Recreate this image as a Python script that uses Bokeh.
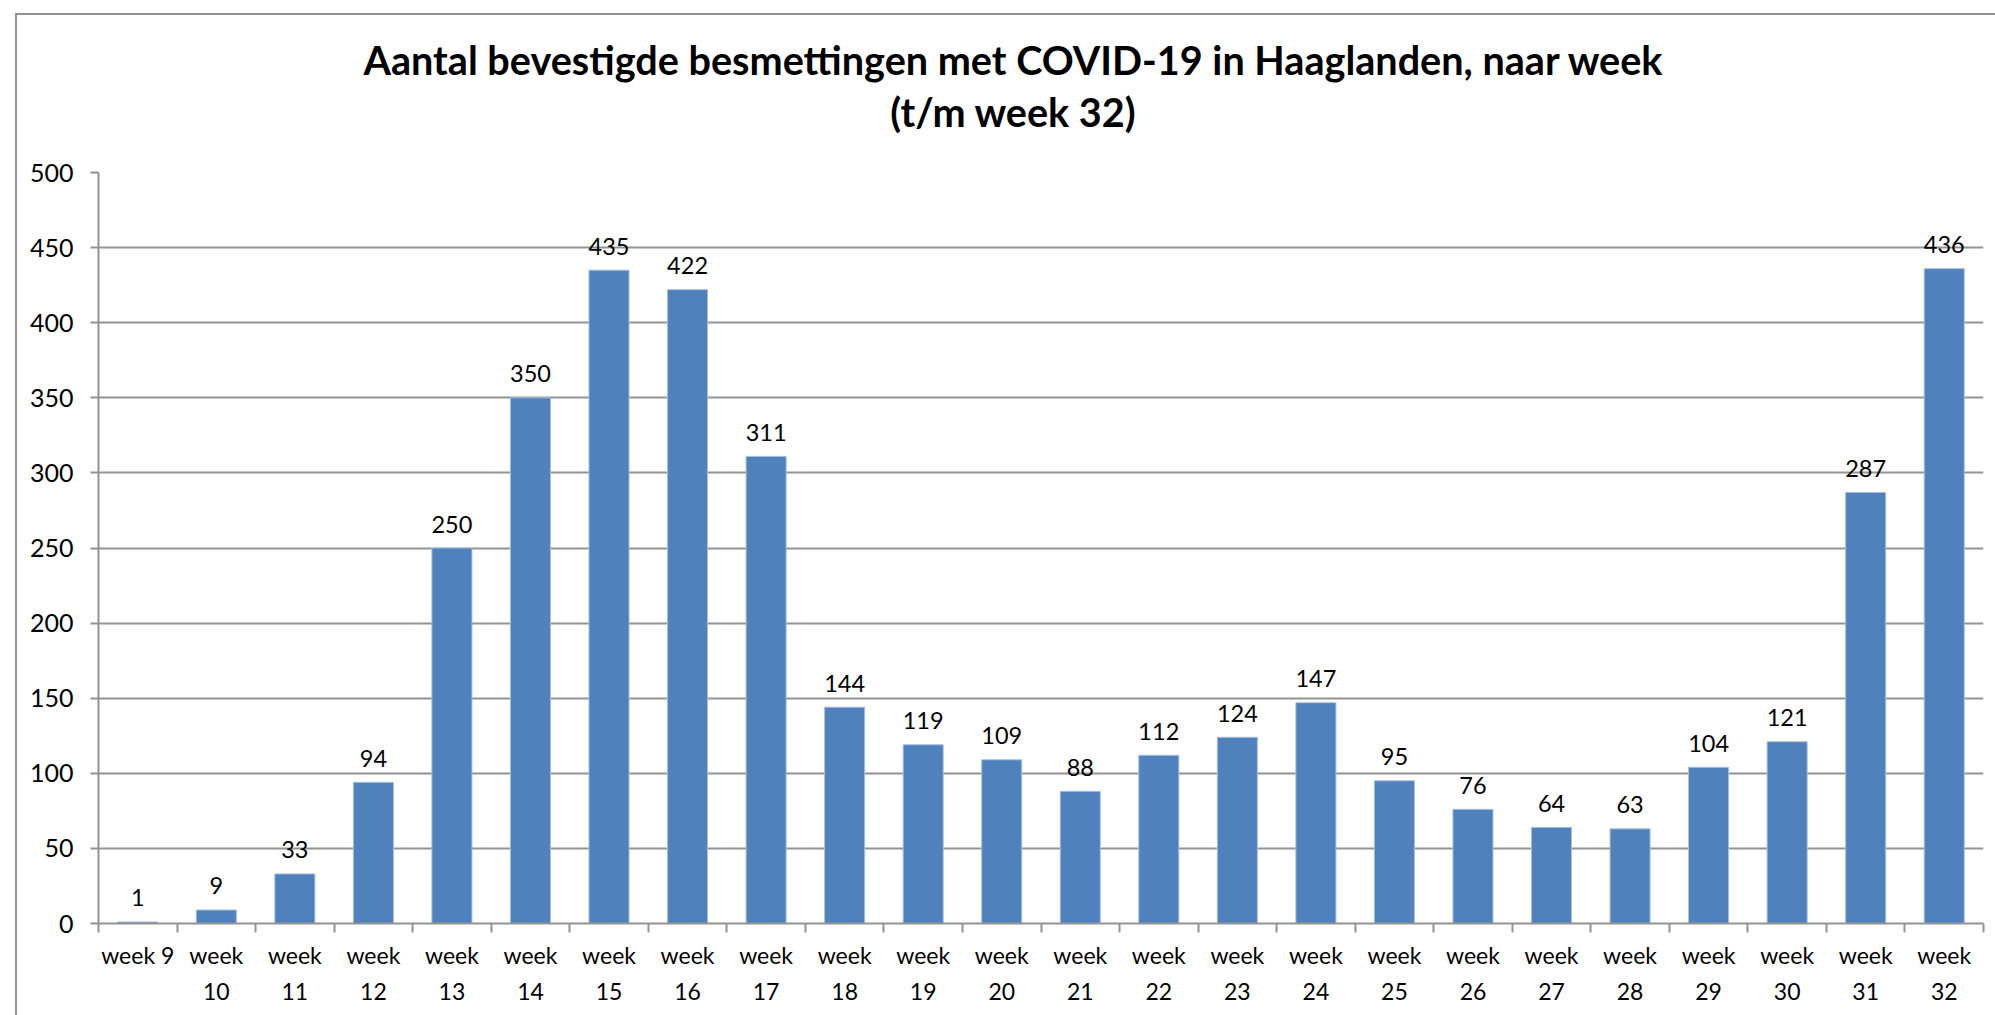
from bokeh.plotting import figure
from bokeh.layouts import column
from bokeh.models import FixedTicker, ColumnDataSource, Range1d, Div
from bokeh.core.properties import value
from bokeh.embed import file_html
from bokeh.resources import INLINE

# ---- data ----
weeks = list(range(9, 33))
tick_labels = ["week 9"] + [f"week\n{w}" for w in weeks[1:]]
cases = [1, 9, 33, 94, 250, 350, 435, 422, 311, 144, 119, 109,
         88, 112, 124, 147, 95, 76, 64, 63, 104, 121, 287, 436]
y_ticks = [0, 50, 100, 150, 200, 250, 300, 350, 400, 450, 500]
title_line1 = "Aantal bevestigde besmettingen met COVID-19 in Haaglanden, naar week"
title_line2 = "(t/m week 32)"

FONT = "Lato"
GRAY = "#939393"
BAR = "#4F81BD"
W = 1995
TITLE_H = 150
grad = f"linear-gradient({GRAY},{GRAY})"

# ---- title block (chart-area border: top edge + left edge) ----
title_div = Div(
    text=(f"<div style='font-family:{FONT}; font-weight:bold; font-size:39.6px; "
          f"line-height:52px; color:#000; text-align:center; width:{W - 31}px; "
          f"margin-left:31px; padding-top:34px; white-space:nowrap;'>"
          f"{title_line1}<br>{title_line2}</div>"),
    width=W, height=TITLE_H,
    styles={"background": f"{grad} 15px 13px / 2px 100% no-repeat, "
                          f"{grad} 15px 13px / 100% 2px no-repeat, white",
            "margin": "0", "padding": "0"})

idx = list(range(len(weeks)))
src = ColumnDataSource(dict(x=idx, y=cases, label=[str(c) for c in cases]))

p = figure(width=W, height=1015 - TITLE_H, output_backend="svg", toolbar_location=None,
           title=None,
           x_range=Range1d(-0.5, len(weeks) - 0.5), y_range=Range1d(0, 500),
           min_border_left=98, min_border_right=12, min_border_top=172 - TITLE_H,
           min_border_bottom=92)
p.styles = {"background": f"{grad} 15px 0px / 2px 100% no-repeat, white"}
p.border_fill_color = None
p.background_fill_color = "white"

p.vbar(x="x", top="y", width=0.51, source=src, fill_color=BAR,
       line_color="#a9c0dc", line_width=1)
p.text(x="x", y="y", text="label", source=src, text_align="center",
       text_baseline="alphabetic", y_offset=-24, text_font=value(FONT),
       text_font_size="23.5px", text_color="#000000")

# x axis
xa = p.xaxis[0]
xa.ticker = FixedTicker(ticks=idx, minor_ticks=[i - 0.5 for i in range(len(weeks) + 1)])
xa.major_label_overrides = {i: lab for i, lab in zip(idx, tick_labels)}
xa.major_tick_out = 0
xa.major_tick_in = 0
xa.minor_tick_out = 9
xa.minor_tick_in = 0
xa.minor_tick_line_color = GRAY
xa.minor_tick_line_width = 2
xa.axis_line_color = GRAY
xa.axis_line_width = 2
xa.major_label_text_font = FONT
xa.major_label_text_font_size = "23px"
xa.major_label_text_color = "#000000"
xa.major_label_text_line_height = 1.3
xa.major_label_standoff = 8

# y axis
ya = p.yaxis[0]
ya.ticker = FixedTicker(ticks=y_ticks)
ya.major_tick_out = 8
ya.major_tick_in = 0
ya.minor_tick_out = 0
ya.minor_tick_in = 0
ya.major_tick_line_color = GRAY
ya.major_tick_line_width = 2
ya.axis_line_color = GRAY
ya.axis_line_width = 2
ya.major_label_text_font = FONT
ya.major_label_text_font_size = "25px"
ya.major_label_text_color = "#000000"
ya.major_label_standoff = 17

p.xgrid.visible = False
p.ygrid.ticker = FixedTicker(ticks=y_ticks)
p.ygrid.grid_line_color = GRAY
p.ygrid.grid_line_width = 2
p.outline_line_color = None

layout = column(title_div, p, spacing=0)
open("out.html", "w").write(file_html(layout, INLINE))
